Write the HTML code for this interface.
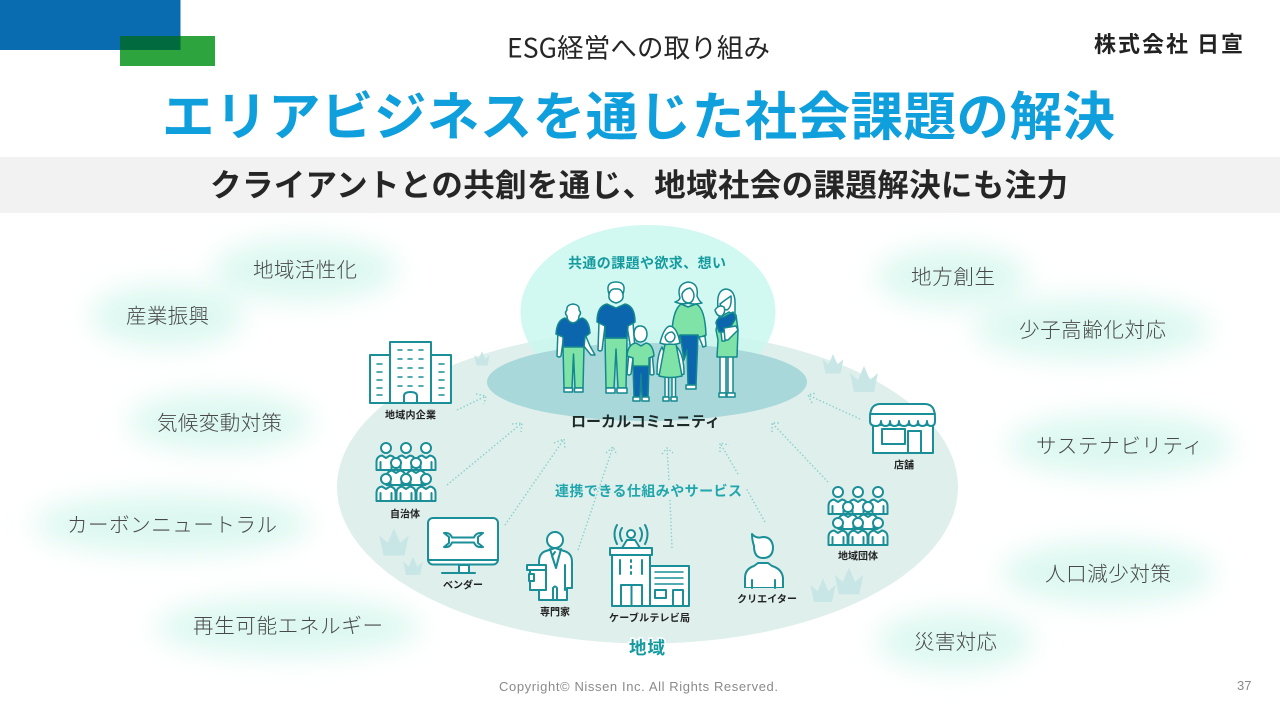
<!DOCTYPE html>
<html lang="ja"><head><meta charset="utf-8"><title>ESG経営への取り組み</title>
<style>
html,body{margin:0;padding:0;background:#fff;width:1280px;height:720px;overflow:hidden}
svg{display:block}
text{font-family:"Liberation Sans","Noto Sans CJK JP",sans-serif}
.j{font-family:"Noto Sans CJK JP","Liberation Sans",sans-serif}
.g{font-family:"Noto Sans CJK JP",sans-serif;font-size:20.500px;font-weight:300;fill:#484848}
.s{font-family:"Noto Sans CJK JP",sans-serif;font-size:10px;font-weight:700;fill:#222}
.t{stroke:#1a8f98;stroke-width:2;fill:#fff;stroke-linejoin:round;stroke-linecap:round}
.n{fill:none}
.d{fill:none;stroke:#86cfcd;stroke-width:1.400;stroke-dasharray:1.400 2.200}
.c{fill:#c8e6e6}
.w{fill:#fff}.gr{fill:#7fe3a8}.bl{fill:#0c66ad}
.p{stroke:#13898f;stroke-width:1.500;stroke-linejoin:round;stroke-linecap:round}
</style></head><body>
<svg width="1280" height="720" viewBox="0 0 1280 720" xmlns="http://www.w3.org/2000/svg">
<defs>
<filter id="b" x="-40%" y="-100%" width="180%" height="300%"><feGaussianBlur stdDeviation="14"/></filter>
<g id="man"><circle cx="0" cy="0" r="5" class="t"/><path class="t" d="M-9.500 22V14Q-9.500 8.500-4 7.500L0 10L4 7.500Q9.500 8.500 9.500 14V22Z"/><path class="t n" d="M-5.500 14V22M5.500 14V22"/></g>
<g id="crowd">
<use href="#man" x="386" y="448"/><use href="#man" x="426" y="448"/><use href="#man" x="406" y="448"/>
<use href="#man" x="396" y="463"/><use href="#man" x="416" y="463"/>
<use href="#man" x="386" y="479"/><use href="#man" x="406" y="479"/><use href="#man" x="426" y="479"/>
</g>
<path id="cr" class="c" d="M-14 -9L-6 -2L0 -16L6 -2L14 -9L10 10H-10Z"/>
</defs>
<rect width="1280" height="720" fill="#fff"/>

<!-- header blocks -->
<rect x="0" y="0" width="180.500" height="50" fill="#0a6cb0"/>
<rect x="120" y="36" width="95" height="30" fill="#2ea43f"/>
<rect x="120" y="36" width="60.500" height="14" fill="#016a3e"/>
<text class="j" x="507" y="57.500" font-size="26.500" fill="#262626" textLength="263" lengthAdjust="spacing">ESG経営への取り組み</text>
<text class="j" x="1094" y="52" font-size="22" font-weight="700" fill="#222" textLength="149" lengthAdjust="spacing">株式会社 日宣</text>
<text class="j" x="162" y="135" font-size="52.500" font-weight="700" fill="#0f9fdc" textLength="953" lengthAdjust="spacing">エリアビジネスを通じた社会課題の解決</text>
<rect x="0" y="157" width="1280" height="56" fill="#f2f2f2"/>
<text class="j" x="210" y="196" font-size="31.500" font-weight="700" fill="#262626" textLength="858" lengthAdjust="spacing">クライアントとの共創を通じ、地域社会の課題解決にも注力</text>

<!-- glows -->
<g fill="#dcf8f0" filter="url(#b)">
<ellipse cx="305" cy="270" rx="92" ry="31"/>
<ellipse cx="167" cy="316" rx="76" ry="31"/>
<ellipse cx="220" cy="422" rx="92" ry="29"/>
<ellipse cx="172" cy="524" rx="138" ry="30"/>
<ellipse cx="288" cy="627" rx="132" ry="29"/>
<ellipse cx="952" cy="277" rx="76" ry="29"/>
<ellipse cx="1092" cy="329" rx="118" ry="31"/>
<ellipse cx="1120" cy="445" rx="113" ry="31"/>
<ellipse cx="1108" cy="573" rx="106" ry="31"/>
<ellipse cx="955" cy="641" rx="78" ry="29"/>
</g>
<text class="g" x="253" y="277" textLength="104" lengthAdjust="spacing">地域活性化</text>
<text class="g" x="126" y="323" textLength="83" lengthAdjust="spacing">産業振興</text>
<text class="g" x="157" y="430" textLength="125" lengthAdjust="spacing">気候変動対策</text>
<text class="g" x="67" y="532" textLength="210" lengthAdjust="spacing">カーボンニュートラル</text>
<text class="g" x="193" y="633" textLength="190" lengthAdjust="spacing">再生可能エネルギー</text>
<text class="g" x="911" y="284" textLength="84" lengthAdjust="spacing">地方創生</text>
<text class="g" x="1019" y="337" textLength="147" lengthAdjust="spacing">少子高齢化対応</text>
<text class="g" x="1036" y="453" textLength="167" lengthAdjust="spacing">サステナビリティ</text>
<text class="g" x="1045" y="581" textLength="126" lengthAdjust="spacing">人口減少対策</text>
<text class="g" x="914" y="649" textLength="83" lengthAdjust="spacing">災害対応</text>

<!-- central diagram -->
<ellipse cx="647.500" cy="487" rx="310.500" ry="156.500" fill="#dfefec"/>
<ellipse cx="648" cy="312" rx="127.500" ry="87" fill="#c9f7ee" opacity=".85"/>
<ellipse cx="647" cy="382" rx="160" ry="39" fill="#a8d8da"/>

<!-- crowns -->
<use href="#cr" transform="translate(482 360) scale(.55)"/>
<use href="#cr" transform="translate(833 366) scale(.75)"/>
<use href="#cr" transform="translate(864 382) scale(1)"/>
<use href="#cr" transform="translate(394 545) scale(1.050)"/>
<use href="#cr" transform="translate(413 568) scale(.7)"/>
<use href="#cr" transform="translate(823 593) scale(.9)"/>
<use href="#cr" transform="translate(849 584) scale(1.020)"/>

<!-- dotted arrows -->
<path class="d" d="M457 410L486 396M476 394L486 396L484 404"/>
<path class="d" d="M447 485L522 423M512 424L522 423L521 432"/>
<path class="d" d="M505 525L564 439M554 443L564 439L565 448"/>
<path class="d" d="M578 550L613 447M606 453L613 447L617 455"/>
<path class="d" d="M672 548L670 500M669 480L667 448M662 454L667 448L673 453"/>
<path class="d" d="M765 522L746 488M738 474L720 443M720 452L720 443L729 445"/>
<path class="d" d="M828 482L772 423M772 432L772 423L781 423"/>
<path class="d" d="M860 419L808 395M812 403L808 395L816 393"/>

<!-- family -->
<g class="p">
<!-- grandpa -->
<path class="w" d="M558 330L557 356Q559 358 561 356L564 334ZM584 332L590 346L595 355L591 355L583 345Z"/>
<path class="gr" d="M563 346H584L583 388H575L573.500 354L572 388H564Z"/>
<path class="w" d="M564 388H572.500V392H564ZM574.500 388H583V392H574.500Z"/>
<path class="bl" d="M565 318Q557 320 556 334L563 337L563 347H584L585 337L590 333Q589 320 582 318L573 322Z"/>
<path class="w" d="M567 310Q566 305 573 304Q580 305 579 310Q582 313 579 316Q579 322 573 323Q567 322 567 316Q564 313 567 310Z"/>
<!-- dad -->
<path class="w" d="M599 322L598 350Q600 352 602 350L605 326ZM627 326L631 350Q633 352 635 350L633 322Z"/>
<path class="gr" d="M605 338H627L626 388H618L616 349L614 388H606Z"/>
<path class="w" d="M606 388H615V393H606ZM617 388H627V393H617Z"/>
<path class="bl" d="M607 304Q597 306 597 322L605 326L605 338H627L628 326L635 322Q635 306 625 304L616 308Z"/>
<path class="w" d="M609 295Q608 301 616 303Q624 301 623 295V288L609 288Z"/>
<path class="w" d="M609 294Q605 282 616 282Q627 282 623 294Q621 288 616 289Q611 288 609 294Z"/>
<!-- mum -->
<path class="bl" d="M680 334H698L696 385H688L687 350L684 360Z"/>
<path class="w" d="M686 385H696V389H686Z"/>
<path class="gr" d="M681 304Q673 310 672 332L678 342L680 335H698L699 338L706 335Q705 308 696 304L688 307Z"/>
<path class="w" d="M699 337L705 336L706 346L703 347Z"/>
<path class="w" d="M680 298Q676 284 688 282Q699 283 697 296Q699 301 702 303Q693 305 688 303Q683 305 675 302Q679 301 680 298Z"/>
<path class="w" d="M682 294Q684 289 690 288Q694 291 694 296Q693 303 688 303Q682 302 682 294Z"/>
<!-- boy -->
<path class="w" d="M629 352L627 374Q629 376 631 374L633 358ZM650 358L650 374Q652 376 654 374L652 352Z"/>
<path class="bl" d="M633 365H649L648 397H642L641 374L640 397H634Z"/>
<path class="w" d="M633 397H640V401H633ZM642 397H649V401H642Z"/>
<path class="gr" d="M636 343Q628 344 627 356L633 358L633 366H649L649 358L654 356Q653 344 646 343L641 346Z"/>
<path class="w" d="M634 335Q634 326 640 326Q647 326 647 335Q646 342 640 342Q635 342 634 335Z"/>
<!-- girl -->
<path class="w" d="M662 347Q657 355 657 374L660 375L664 352ZM677 347Q684 355 684 374L681 375L676 352Z"/>
<path class="w" d="M665 376H668.500V397H665ZM672 376H675.500V397H672Z"/>
<path class="w" d="M663 397H669V401H663ZM671 397H677V401H671Z"/>
<path class="gr" d="M665 344H676L682 376Q670 379 659 376Z"/>
<path class="w" d="M660 343Q664 327 670 326Q677 327 680 343Q675 345 670 344Q665 345 660 343Z"/>
<path class="w" d="M665 337Q667 332 672 332Q675 334 675 337Q674 342 670 342Q666 342 665 337Z"/>
<!-- woman -->
<path class="w" d="M720 356H726V393H720ZM728 356H733V393H728Z"/>
<path class="w" d="M719 393H726V397H719ZM727 393H735V397H727Z"/>
<path class="gr" d="M720 313L716 330L718 340L717 357H737L738 330L736 315L730 312Z"/>
<path class="w" d="M718 308Q716 290 726 289Q736 290 735 306L735 316L729 312L722 316Z"/>
<path class="w" d="M720 304Q725 300 731 296Q732 307 727 310Q722 309 720 304Z"/>
<path class="bl" d="M716 323Q717 317 724 317L733 312L736 318L730 328L727 332H719Z"/>
<path class="w" d="M715 310Q719 304 724 307Q726 312 722 316Q717 317 715 310Z"/>
<path class="w" d="M721 332L727 332L725 341L722 341Z"/>
<path class="w" d="M724 328L736 326L738 330L728 340L725 340Z"/>
</g>

<!-- 地域内企業 -->
<g class="t">
<rect x="370" y="355" width="20" height="48"/><rect x="431" y="355" width="20" height="48"/><rect x="390" y="342" width="41" height="61"/>
<path class="n" d="M404 403V396Q404 392 410.500 392Q417 392 417 396V403"/>
<path class="n" style="stroke-width:1.500" d="M398 350h4M408 350h4M419 350h4M398 359h4M408 359h4M419 359h4M398 368h4M408 368h4M419 368h4M398 377h4M408 377h4M419 377h4M398 386h4M408 386h4M419 386h4M377 364h5M377 372h5M377 380h5M377 388h5M377 395h5M439 364h5M439 372h5M439 380h5M439 388h5M439 395h5"/>
</g>

<!-- crowds -->
<use href="#crowd"/>
<use href="#crowd" transform="translate(452 44)"/>

<!-- shop -->
<g class="t">
<rect x="873" y="425" width="60" height="28"/>
<path d="M870 418Q870 404 880 404H925Q935 404 935 418V421Q935 426 931 426Q927 426 927 421Q927 426 922.500 426Q918 426 918 421Q918 426 913.500 426Q909 426 909 421Q909 426 904 426Q899 426 899 421Q899 426 894.500 426Q890 426 890 421Q890 426 885.500 426Q881 426 881 421Q881 426 876 426Q870 426 870 421Z"/>
<path class="n" d="M870 414H935"/>
<rect x="882" y="429" width="23" height="15"/>
<path class="n" d="M908 453V431H921V453"/>
</g>

<!-- vendor -->
<g class="t">
<path d="M459 565H469V573H459Z"/>
<path class="n" d="M442 573H475"/>
<rect x="428" y="518" width="70" height="46.500" rx="5"/>
<path class="n" d="M428 560H498"/>
<path class="n" d="M452 537.500H474Q476 532 483 533L478 537V543L483 547Q476 548 474 542.500H452Q450 548 444 547L449 543V537L444 533Q450 532 452 537.500Z"/>
</g>

<!-- expert -->
<g class="t">
<path class="w" d="M539 600V562Q539 553 546 551L555 548L564 551Q572 553 572 562V588H567V600Z"/>
<circle cx="555" cy="540" r="8"/>
<path class="n" d="M550 549L556 568L561 549M555 552L552 556L556 568L559 556M553 600V588Q555 585 557 588V600M565 565V590"/>
<path class="w" d="M530 570H546V590H530Z"/>
<path d="M527 565H546V570H527Z"/>
<rect x="529" y="574" width="5" height="7"/>
</g>

<!-- cable tv -->
<g class="t">
<rect x="612" y="555" width="38" height="51"/>
<rect x="650" y="566" width="39" height="40"/>
<path d="M627 540H635L640 548H622Z"/>
<circle cx="631" cy="534" r="4"/>
<rect x="610" y="548" width="42" height="7"/>
<path class="n" d="M622 528Q618 534 622 541M640 528Q644 534 640 541M617 525Q612 534 617 544M645 525Q650 534 645 544"/>
<path class="n" d="M620 560V574M631 560V562M631 566V568M631 572V574M642 560V574"/>
<path class="n" d="M621 606V585H642V606M631.500 585V606"/>
<path class="n" style="stroke-width:1.500" d="M655 572H683M655 578H683M655 584H683"/>
<rect x="655" y="590" width="11" height="8"/>
<path class="n" d="M673 606V590H683V606"/>
</g>

<!-- creator -->
<g fill="none" stroke="#1a8f98" stroke-width="2" stroke-linejoin="round" stroke-linecap="round">
<path fill="#fff" d="M745 588V578Q745 569 754 566L758 563H768L772 566Q782 569 783 578V588Z"/>
<path stroke="none" fill="#dfefec" d="M744 588h40v2h-40z"/>
<path fill="#fff" d="M754 546Q752 540 752 534Q756 539 763 537Q772 537 773 547Q773 558 763 558Q754 558 754 546Z"/>
<path d="M752 580V588M775 580V588"/>
</g>

<!-- labels -->
<text class="j" x="568" y="268" font-size="14" font-weight="700" fill="#149a9f" textLength="158" lengthAdjust="spacing">共通の課題や欲求、想い</text>
<text class="j" x="571" y="426.500" font-size="15" font-weight="700" fill="#1c2a2a" textLength="149" lengthAdjust="spacing">ローカルコミュニティ</text>
<text class="j" x="555" y="496" font-size="14" font-weight="700" fill="#20a6ac" textLength="187" lengthAdjust="spacing">連携できる仕組みやサービス</text>
<text class="s" x="385" y="418.500" textLength="51" lengthAdjust="spacing">地域内企業</text>
<text class="s" x="390" y="517.500" textLength="30" lengthAdjust="spacing">自治体</text>
<text class="s" x="443" y="588.500" textLength="40" lengthAdjust="spacing">ベンダー</text>
<text class="s" x="540" y="615.500" textLength="30" lengthAdjust="spacing">専門家</text>
<text class="s" x="609" y="621.500" textLength="81" lengthAdjust="spacing">ケーブルテレビ局</text>
<text class="s" x="737" y="602.500" textLength="60" lengthAdjust="spacing">クリエイター</text>
<text class="s" x="838" y="559.500" textLength="40" lengthAdjust="spacing">地域団体</text>
<text class="s" x="894" y="468.500" textLength="20" lengthAdjust="spacing">店舗</text>
<text class="j" x="629" y="654" font-size="17.500" font-weight="700" fill="#149a9f" stroke="#fff" stroke-width="3" paint-order="stroke" textLength="36" lengthAdjust="spacing">地域</text>

<!-- footer -->
<text x="499" y="691" font-size="13" fill="#8a8a8a" textLength="279" lengthAdjust="spacing">Copyright© Nissen Inc. All Rights Reserved.</text>
<text x="1237" y="690" font-size="13" fill="#8a8a8a">37</text>
</svg>
</body></html>
